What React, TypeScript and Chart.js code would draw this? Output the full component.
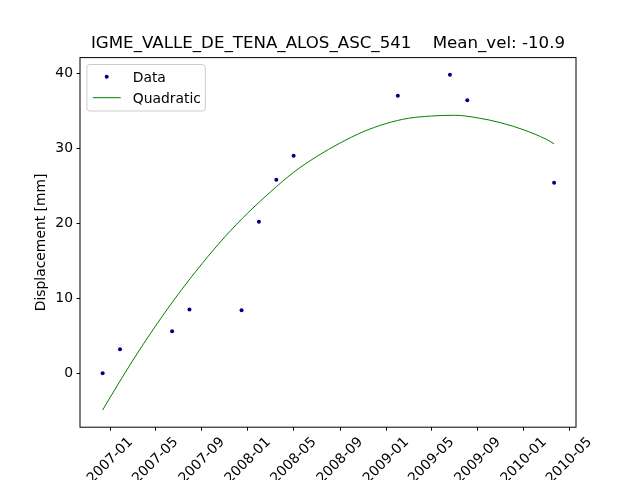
import { useEffect, useRef } from "react";
import Chart from "chart.js/auto";

// acquisition dates and measured displacement [mm]
const dataDates: string[] = [
  "2006-12-12", "2007-01-27", "2007-06-14", "2007-07-30", "2007-12-15", "2008-01-30",
  "2008-03-16", "2008-05-01", "2009-02-01", "2009-06-19", "2009-08-04", "2010-03-22",
];
const dataValues: number[] = [0.0, 3.2, 5.6, 8.5, 8.4, 20.2, 25.8, 29.0, 37.0, 39.8, 36.4, 25.4];

// quadratic trend
const fitDates: string[] = [
  "2006-12-12", "2007-01-01", "2007-03-01", "2007-05-01", "2007-07-01", "2007-09-01",
  "2007-11-01", "2008-01-01", "2008-03-01", "2008-05-01", "2008-07-01", "2008-09-01",
  "2008-11-01", "2009-01-01", "2009-03-01", "2009-05-01", "2009-07-01", "2009-09-01",
  "2009-11-01", "2010-01-01", "2010-03-01", "2010-03-22",
];
const fitValues: number[] = [
  -4.9, -3.2, 1.65, 6.3, 10.6, 14.6, 18.2, 21.4, 24.2, 26.8, 28.9, 30.7,
  32.2, 33.3, 34.0, 34.3, 34.4, 34.05, 33.4, 32.45, 31.2, 30.6,
];

const xTickLabels: string[] = [
  "2007-01", "2007-05", "2007-09", "2008-01", "2008-05", "2008-09",
  "2009-01", "2009-05", "2009-09", "2010-01", "2010-05",
];
const yTickValues: number[] = [0, 10, 20, 30, 40];

const xMin = "2006-10-13";
const xMax = "2010-05-19";
const yMin = -7.19;
const yMax = 42.09;

const titleText = "IGME_VALLE_DE_TENA_ALOS_ASC_541    Mean_vel: -10.9";
const FONT = "DejaVu Sans";

const toTime = (s: string) => Date.parse(s);

// frame + legend drawn like matplotlib
const framePlugin = {
  id: "frame",
  afterDraw(chart: any) {
    const { ctx, chartArea } = chart;
    const { left, top, right, bottom } = chartArea;
    ctx.save();
    ctx.strokeStyle = "#000";
    ctx.lineWidth = 1;
    ctx.strokeRect(left, top, right - left, bottom - top);

    // legend box
    const bx = 86.9, by = 64.5, bw = 118.4, bh = 46.5, r = 3;
    ctx.beginPath();
    ctx.moveTo(bx + r, by);
    ctx.arcTo(bx + bw, by, bx + bw, by + bh, r);
    ctx.arcTo(bx + bw, by + bh, bx, by + bh, r);
    ctx.arcTo(bx, by + bh, bx, by, r);
    ctx.arcTo(bx, by, bx + bw, by, r);
    ctx.closePath();
    ctx.fillStyle = "rgba(255,255,255,0.8)";
    ctx.fill();
    ctx.strokeStyle = "#cccccc";
    ctx.stroke();

    const ds = chart.data.datasets;
    ctx.fillStyle = "#000080";
    ctx.beginPath();
    ctx.arc(106.7, 76.7, 2, 0, Math.PI * 2);
    ctx.fill();

    ctx.strokeStyle = "#008000";
    ctx.lineWidth = 1;
    ctx.beginPath();
    ctx.moveTo(92.7, 97.7);
    ctx.lineTo(120.7, 97.7);
    ctx.stroke();

    ctx.fillStyle = "#000";
    ctx.font = `13.9px "${FONT}"`;
    ctx.textAlign = "left";
    ctx.textBaseline = "alphabetic";
    ctx.fillText(ds[0].label, 132.7, 81.7);
    ctx.fillText(ds[1].label, 132.7, 103.2);
    ctx.restore();
  },
};

const App = () => {
  const chartRef = useRef<HTMLCanvasElement | null>(null);

  useEffect(() => {
    const tickFont = { family: FONT, size: 13.9 };
    const chartConfig: any = {
      type: "scatter",
      data: {
        datasets: [
          {
            label: "Data",
            data: dataDates.map((d, i) => ({ x: toTime(d), y: dataValues[i] })),
            showLine: false,
            pointRadius: 2,
            pointBorderWidth: 0,
            pointBackgroundColor: "#000080",
            borderColor: "#000080",
          },
          {
            label: "Quadratic",
            data: fitDates.map((d, i) => ({ x: toTime(d), y: fitValues[i] })),
            showLine: true,
            pointRadius: 0,
            borderColor: "#008000",
            borderWidth: 1,
            cubicInterpolationMode: "monotone",
          },
        ],
      },
      options: {
        animation: false,
        responsive: false,
        layout: { padding: { left: 0, right: 64, top: 0, bottom: 0 } },
        plugins: {
          legend: { display: false },
          tooltip: { enabled: false },
          title: {
            display: true,
            fullSize: false,
            text: titleText,
            color: "#000",
            font: { family: FONT, size: 16.67, weight: "normal", lineHeight: 1.2 },
            padding: { top: 33.8, bottom: 3.8 },
          },
        },
        scales: {
          x: {
            type: "linear",
            min: toTime(xMin),
            max: toTime(xMax),
            afterBuildTicks: (s: any) => {
              s.ticks = xTickLabels.map((l) => ({ value: toTime(l) }));
            },
            afterFit: (s: any) => {
              s.height = 52.8;
              s.paddingLeft = 0;
              s.paddingRight = 0;
            },
            ticks: {
              callback: (_v: number, i: number) => xTickLabels[i],
              minRotation: 45,
              maxRotation: 45,
              autoSkip: false,
              color: "#000",
              font: tickFont,
              padding: 3.3,
              labelOffset: 20.5,
            },
            grid: { drawOnChartArea: false, tickLength: 3.5, tickColor: "#000", tickWidth: 1 },
            border: { display: false },
          },
          y: {
            min: yMin,
            max: yMax,
            afterBuildTicks: (s: any) => {
              s.ticks = yTickValues.map((v) => ({ value: v }));
            },
            afterFit: (s: any) => {
              s.width = 80;
              s.paddingTop = 0;
              s.paddingBottom = 0;
            },
            ticks: { color: "#000", font: tickFont, padding: 3.5 },
            grid: { drawOnChartArea: false, tickLength: 3.5, tickColor: "#000", tickWidth: 1 },
            border: { display: false },
            title: {
              display: true,
              text: "Displacement [mm]",
              color: "#000",
              font: tickFont,
              padding: { top: 33, bottom: 0 },
            },
          },
        },
      },
      plugins: [framePlugin],
    };

    const myChart = new Chart(chartRef.current!, chartConfig);
    return () => {
      myChart.destroy();
    };
  }, []);

  return (
    <div style={{ position: "absolute", left: 0, top: 0, width: 640, height: 480, background: "#fff" }}>
      <canvas ref={chartRef} width={640} height={480} />
    </div>
  );
};

export default App;
